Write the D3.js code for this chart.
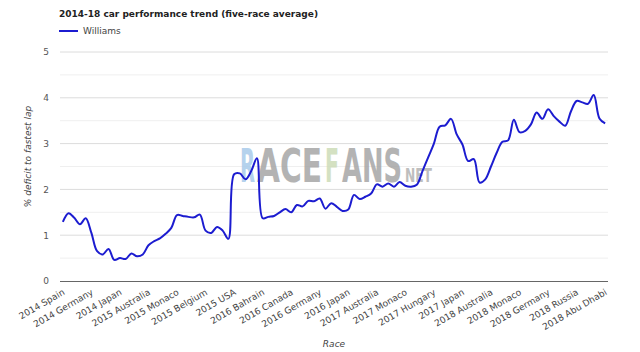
<!DOCTYPE html>
<html>
<head>
<meta charset="utf-8">
<script src="https://cdn.jsdelivr.net/npm/d3@7/dist/d3.min.js"></script>
<style>
    body { margin: 0; background: #fff; }
    text { font-family: "DejaVu Sans", Verdana, Tahoma, sans-serif; }
</style>
</head>
<body>
<div id="chart"></div>
<script>

// ---- DATA ----
// five-race average, first point is the 5th race of 2014
const races2014 = ["Spain", "Monaco", "Canada", "Austria", "Britain", "Germany", "Hungary", "Belgium",
    "Italy", "Singapore", "Japan", "Russia", "USA", "Brazil", "Abu Dhabi"];
const races2015 = ["Australia", "Malaysia", "China", "Bahrain", "Spain", "Monaco", "Canada", "Austria",
    "Britain", "Hungary", "Belgium", "Italy", "Singapore", "Japan", "Russia", "USA", "Mexico", "Brazil", "Abu Dhabi"];
const races2016 = ["Australia", "Bahrain", "China", "Russia", "Spain", "Monaco", "Canada", "Europe", "Austria",
    "Britain", "Hungary", "Germany", "Belgium", "Italy", "Singapore", "Malaysia", "Japan", "USA", "Mexico",
    "Brazil", "Abu Dhabi"];
const races2017 = ["Australia", "China", "Bahrain", "Russia", "Spain", "Monaco", "Canada", "Azerbaijan",
    "Austria", "Britain", "Hungary", "Belgium", "Italy", "Singapore", "Malaysia", "Japan", "USA", "Mexico",
    "Brazil", "Abu Dhabi"];
const races2018 = ["Australia", "Bahrain", "China", "Azerbaijan", "Spain", "Monaco", "Canada", "France",
    "Austria", "Britain", "Germany", "Hungary", "Belgium", "Italy", "Singapore", "Russia", "Japan", "USA",
    "Mexico", "Brazil", "Abu Dhabi"];

const seasons = [[2014, races2014], [2015, races2015], [2016, races2016], [2017, races2017], [2018, races2018]];

// % deficit to fastest lap
const williams = [
    1.29, 1.48, 1.38, 1.24, 1.37, 1.05, 0.65, 0.58, 0.70, 0.46,
    0.50, 0.48, 0.60, 0.54, 0.58, 0.78, 0.87, 0.93, 1.03, 1.16,
    1.44, 1.42, 1.40, 1.39, 1.45, 1.10, 1.05, 1.18, 1.10, 0.92,
    2.33, 2.35, 2.22, 2.40, 2.68, 1.37, 1.40, 1.42, 1.50, 1.57,
    1.50, 1.66, 1.63, 1.75, 1.74, 1.80, 1.58, 1.70, 1.62, 1.53,
    1.56, 1.88, 1.79, 1.84, 1.91, 2.11, 2.06, 2.13, 2.06, 2.16,
    2.08, 2.06, 2.10, 2.40, 2.70, 3.00, 3.37, 3.40, 3.54, 3.20,
    2.98, 2.62, 2.66, 2.15, 2.22, 2.50, 2.80, 3.04, 3.07, 3.52,
    3.25, 3.28, 3.42, 3.68, 3.54, 3.75, 3.60, 3.48, 3.39, 3.70,
    3.93, 3.90, 3.87, 4.06, 3.55, 3.44
];

const yTicks = [0, 1, 2, 3, 4, 5];
const yMinorTicks = [0.5, 1.5, 2.5, 3.5, 4.5];
const labelEvery = 5;


class LineVis {

    constructor(parentElement, categories, values) {
        this.parentElement = parentElement;
        this.categories = categories;
        this.values = values;
        this.initVis();
    }

    initVis() {
        let vis = this;

        // margin conventions
        vis.margin = {top: 52, right: 32, bottom: 71, left: 60};
        vis.width = 640 - vis.margin.left - vis.margin.right;
        vis.height = 352 - vis.margin.top - vis.margin.bottom;

        vis.root = d3.select("#" + vis.parentElement).append("svg")
            .attr("width", 640)
            .attr("height", 352);

        vis.svg = vis.root.append("g")
            .attr("transform", "translate(" + vis.margin.left + "," + vis.margin.top + ")");

        // title + legend
        vis.root.append("text")
            .attr("x", vis.margin.left - 1)
            .attr("y", 17)
            .attr("font-size", "9px")
            .attr("font-weight", "bold")
            .attr("fill", "#222")
            .text("2014-18 car performance trend (five-race average)");

        vis.root.append("line")
            .attr("x1", vis.margin.left - 1)
            .attr("x2", vis.margin.left + 18)
            .attr("y1", 31)
            .attr("y2", 31)
            .attr("stroke", "#1c1cd0")
            .attr("stroke-width", 2);

        vis.root.append("text")
            .attr("x", vis.margin.left + 23)
            .attr("y", 34)
            .attr("font-size", "9px")
            .attr("fill", "#444")
            .text("Williams");

        // scales
        vis.x = d3.scalePoint()
            .range([0, vis.width])
            .padding(0.5);

        vis.y = d3.scaleLinear()
            .domain([0, 5])
            .range([vis.height, 0]);

        // watermark (logo pieces laid side by side, squeezed horizontally)
        vis.wm = vis.svg.append("g")
            .attr("class", "watermark")
            .attr("opacity", 0.85)
            .attr("font-weight", "bold");

        let cx = vis.width / 2;
        let pieces = [
            {t: "R", x: -94, w: 15, c: "#a9cbea", s: 46},
            {t: "ACE", x: -77, w: 65, c: "#a6a6a6", s: 46},
            {t: "F", x: -9, w: 14, c: "#cddcb8", s: 46},
            {t: "ANS", x: 8, w: 60, c: "#a6a6a6", s: 46},
            {t: "NET", x: 71, w: 27, c: "#b3b3b3", s: 20}
        ];
        pieces.forEach(p => {
            let t = vis.wm.append("text")
                .attr("font-size", p.s + "px")
                .attr("fill", p.c)
                .text(p.t);
            let natural = t.node().getComputedTextLength();
            t.attr("transform", `translate(${cx + p.x},130) scale(${p.w / natural},1)`);
        });

        // axis titles
        vis.root.append("text")
            .attr("text-anchor", "middle")
            .attr("font-size", "9px")
            .attr("font-style", "italic")
            .attr("fill", "#444")
            .attr("transform", `translate(31, ${vis.margin.top + vis.height / 2 - 10}) rotate(-90)`)
            .text("% deficit to fastest lap");

        vis.root.append("text")
            .attr("text-anchor", "middle")
            .attr("font-size", "9px")
            .attr("font-style", "italic")
            .attr("fill", "#444")
            .attr("x", vis.margin.left + vis.width / 2)
            .attr("y", 347)
            .text("Race");

        this.wrangleData();
    }

    wrangleData() {
        let vis = this;
        vis.displayData = vis.categories.map((c, i) => ({race: c, value: vis.values[i], idx: i}));
        vis.x.domain(vis.categories);
        this.updateVis();
    }

    updateVis() {
        let vis = this;

        // grid lines
        vis.svg.insert("g", ".watermark")
            .selectAll("line.minor")
            .data(yMinorTicks)
            .enter().append("line")
            .attr("class", "minor")
            .attr("x1", 0)
            .attr("x2", vis.width)
            .attr("y1", d => vis.y(d))
            .attr("y2", d => vis.y(d))
            .attr("stroke", "#efefef")
            .attr("stroke-width", 1);

        vis.svg.insert("g", ".watermark")
            .selectAll("line.major")
            .data(yTicks.filter(d => d !== 0))
            .enter().append("line")
            .attr("class", "major")
            .attr("x1", 0)
            .attr("x2", vis.width)
            .attr("y1", d => vis.y(d))
            .attr("y2", d => vis.y(d))
            .attr("stroke", "#dcdcdc")
            .attr("stroke-width", 1);

        // y axis
        vis.yAxis = d3.axisLeft(vis.y)
            .tickValues(yTicks)
            .tickFormat(d3.format("d"))
            .tickSize(0)
            .tickPadding(11);

        vis.svg.append("g")
            .attr("class", "y-axis axis")
            .call(vis.yAxis)
            .call(g => g.select(".domain").remove())
            .selectAll("text")
            .attr("font-family", null)
            .attr("font-size", "9px")
            .attr("fill", "#555");

        // x axis
        vis.xAxis = d3.axisBottom(vis.x)
            .tickValues(vis.categories.filter((d, i) => i % labelEvery === 0))
            .tickSize(0)
            .tickSizeOuter(0);

        let xg = vis.svg.append("g")
            .attr("class", "x-axis axis")
            .attr("transform", "translate(0," + vis.height + ")")
            .call(vis.xAxis);

        xg.select(".domain")
            .attr("d", "M0,0.5H" + vis.width)
            .attr("stroke", "#666")
            .attr("stroke-width", 1);

        xg.selectAll("text")
            .attr("font-family", null)
            .attr("font-size", "9px")
            .attr("fill", "#444")
            .style("text-anchor", "end")
            .attr("y", 0)
            .attr("dy", 0)
            .attr("transform", "translate(2,13) rotate(-30)");

        // line
        vis.line = d3.line()
            .x(d => vis.x(d.race))
            .y(d => vis.y(d.value))
            .curve(d3.curveCatmullRom.alpha(0.5));

        vis.svg.append("path")
            .datum(vis.displayData)
            .attr("class", "line")
            .attr("fill", "none")
            .attr("stroke", "#1c1cd0")
            .attr("stroke-width", 2)
            .attr("stroke-linejoin", "round")
            .attr("d", vis.line);
    }
}

let categories = [];
seasons.forEach(([year, list]) => list.forEach(r => categories.push(year + " " + r)));

let myLineVis = new LineVis("chart", categories, williams);

</script>
</body>
</html>
